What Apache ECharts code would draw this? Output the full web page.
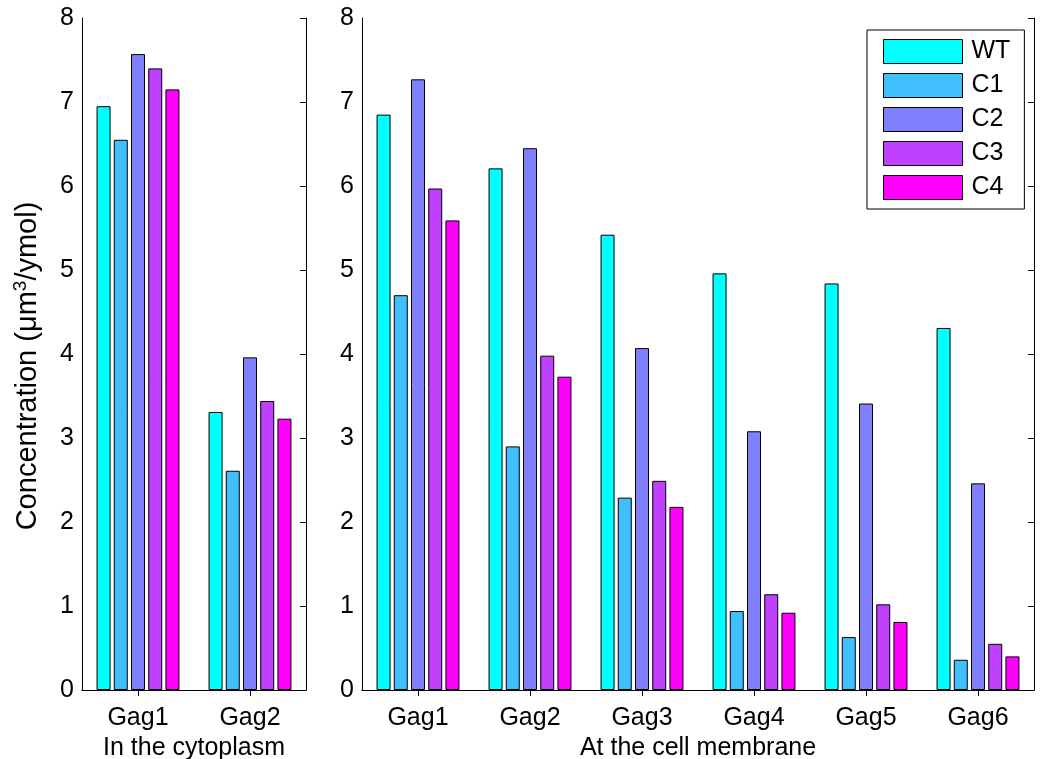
<!DOCTYPE html>
<html>
<head>
<meta charset="utf-8">
<script src="https://cdn.jsdelivr.net/npm/echarts@6/dist/echarts.min.js"></script>
<style>
  html, body { margin: 0; padding: 0; background: #fff; }
  #main { width: 1040px; height: 759px; }
</style>
</head>
<body>
<div id="main"></div>
<script>
// data
var seriesNames = ['WT', 'C1', 'C2', 'C3', 'C4'];
var colors = ['#00ffff', '#40bfff', '#8080ff', '#bf40ff', '#ff00ff'];

var cytoCats = ['Gag1', 'Gag2'];
var cytoWT = [6.95, 3.31];
var cytoC1 = [6.55, 2.61];
var cytoC2 = [7.57, 3.96];
var cytoC3 = [7.40, 3.44];
var cytoC4 = [7.15, 3.23];

var membCats = ['Gag1', 'Gag2', 'Gag3', 'Gag4', 'Gag5', 'Gag6'];
var membWT = [6.85, 6.21, 5.42, 4.96, 4.84, 4.31];
var membC1 = [4.70, 2.90, 2.29, 0.94, 0.63, 0.36];
var membC2 = [7.27, 6.45, 4.07, 3.08, 3.41, 2.46];
var membC3 = [5.97, 3.98, 2.49, 1.14, 1.02, 0.55];
var membC4 = [5.59, 3.73, 2.18, 0.92, 0.81, 0.40];

var yMin = 0, yMax = 8, yStep = 1;

var cytoData = [cytoWT, cytoC1, cytoC2, cytoC3, cytoC4];
var membData = [membWT, membC1, membC2, membC3, membC4];

var font = "'Liberation Sans', Arial, Helvetica, sans-serif";
var fs = 25;
var line = { show: true, lineStyle: { color: '#000', width: 1 } };

function xBottom(grid, cats, name) {
  return {
    type: 'category', gridIndex: grid, position: 'bottom', data: cats,
    axisLine: line,
    axisTick: { show: true, inside: true, length: 6, alignWithLabel: true, lineStyle: { color: '#000' } },
    axisLabel: { color: '#000', fontSize: fs, fontFamily: font, margin: 16 },
    name: name, nameLocation: 'middle', nameGap: 28,
    nameTextStyle: { color: '#000', fontSize: fs, fontFamily: font }
  };
}
function xTop(grid, cats) {
  return {
    type: 'category', gridIndex: grid, position: 'top', data: cats,
    axisLine: line,
    axisTick: { show: true, inside: true, length: 6, alignWithLabel: true, lineStyle: { color: '#000' } },
    axisLabel: { show: false }
  };
}
function yLeft(grid, name) {
  return {
    type: 'value', gridIndex: grid, position: 'left', min: yMin, max: yMax, interval: yStep,
    axisLine: line, splitLine: { show: false },
    axisTick: { show: false },
    axisLabel: { color: '#000', fontSize: fs, fontFamily: font, margin: 8 },
    name: name, nameLocation: 'middle', nameGap: 37,
    nameTextStyle: {
      color: '#000', fontSize: 29, fontFamily: font, padding: [0, 24, 0, 0],
      rich: {
        a: { fontSize: 29, fontFamily: font, color: '#000', lineHeight: 34 },
        s: { fontSize: 19, fontFamily: font, color: '#000', verticalAlign: 'top', lineHeight: 34 }
      }
    }
  };
}
function yRight(grid) {
  return {
    type: 'value', gridIndex: grid, position: 'right', min: yMin, max: yMax, interval: yStep,
    axisLine: line, splitLine: { show: false },
    axisTick: { show: true, inside: true, length: 6, lineStyle: { color: '#000' } },
    axisLabel: { show: false }
  };
}

var series = [];
function addBars(xi, yi, data) {
  for (var i = 0; i < seriesNames.length; i++) {
    series.push({
      name: seriesNames[i], type: 'bar', xAxisIndex: xi, yAxisIndex: yi,
      data: data[i], barWidth: 14, barGap: '23%',
      itemStyle: { color: colors[i], borderColor: '#000', borderWidth: 1 },
      emphasis: { disabled: true }
    });
  }
}
addBars(0, 0, cytoData);
addBars(2, 2, membData);

var chart = echarts.init(document.getElementById('main'));
chart.setOption({
  animation: false,
  backgroundColor: '#fff',
  grid: [
    { left: 82, top: 18, width: 224, height: 672, outerBoundsMode: 'none' },
    { left: 362, top: 18, width: 672, height: 672, outerBoundsMode: 'none' }
  ],
  xAxis: [
    xBottom(0, cytoCats, 'In the cytoplasm'), xTop(0, cytoCats),
    xBottom(1, membCats, 'At the cell membrane'), xTop(1, membCats)
  ],
  yAxis: [
    yLeft(0, '{a|Concentration (\u03bcm}{s|3}{a|/ymol)}'), yRight(0),
    yLeft(1, ''), yRight(1)
  ],
  legend: {
    data: seriesNames, orient: 'vertical', left: 867, top: 30,
    icon: 'rect',
    itemWidth: 79, itemHeight: 24, itemGap: 9,
    padding: [9, 14, 9, 16],
    borderColor: '#000', borderWidth: 1, backgroundColor: '#fff',
    itemStyle: { borderColor: '#000', borderWidth: 1 },
    textStyle: { color: '#000', fontSize: fs, fontFamily: font, padding: [0, 0, 0, 4] }
  },
  series: series
});
</script>
</body>
</html>
